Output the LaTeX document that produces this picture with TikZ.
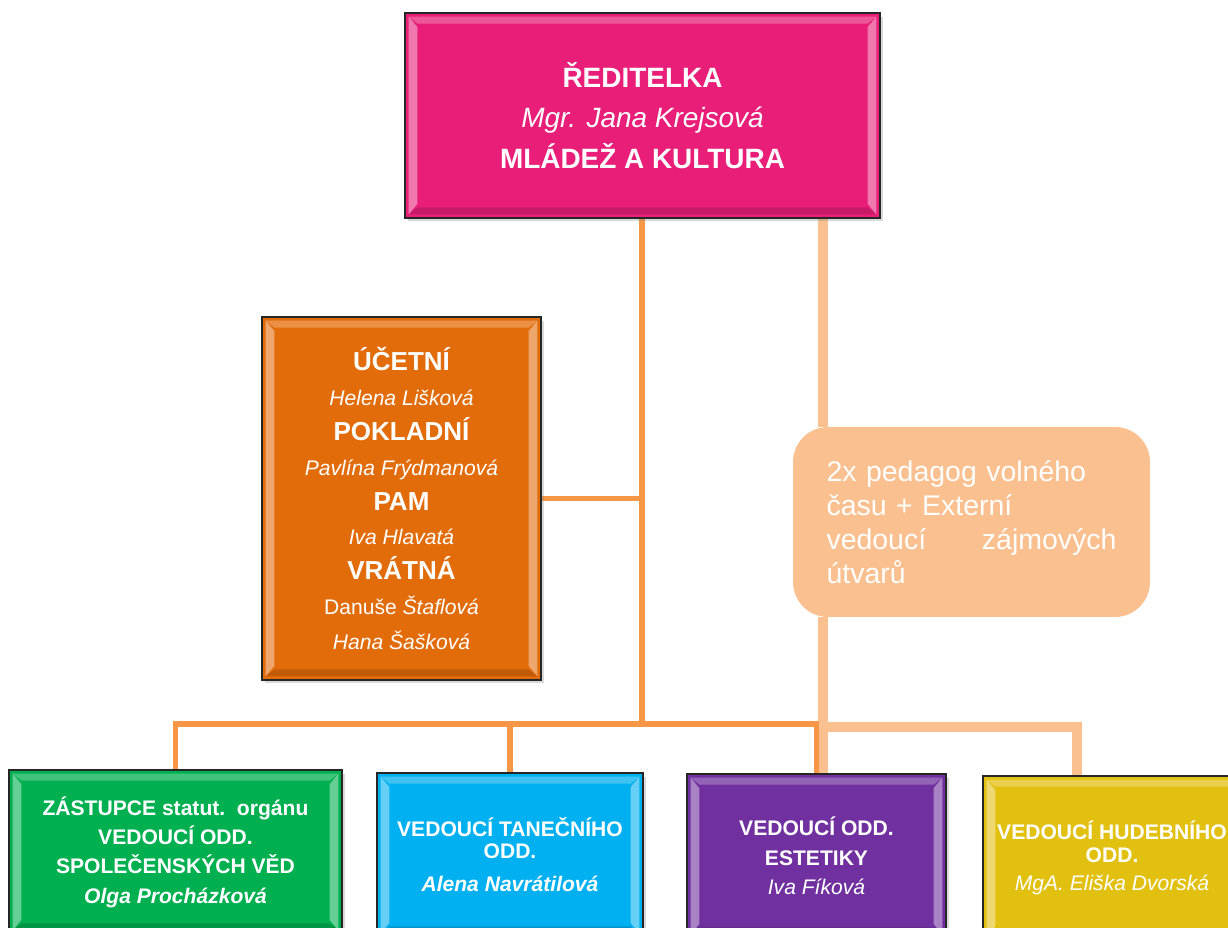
\documentclass[tikz,border=0pt]{standalone}
\usepackage{fontspec}
\setmainfont{Liberation Sans}
\usetikzlibrary{shadows,backgrounds}

\definecolor{reditpink}{RGB}{233,30,121}
\definecolor{ucetorange}{RGB}{227,108,10}
\definecolor{volnypeach}{RGB}{250,192,143}
\definecolor{lineorange}{RGB}{247,150,70}
\definecolor{zastgreen}{RGB}{0,176,80}
\definecolor{tanecblue}{RGB}{0,176,240}
\definecolor{estetpurple}{RGB}{112,48,160}
\definecolor{hudebyellow}{RGB}{226,192,16}

\newcommand{\rolename}[1]{{\fontsize{14.8}{19.8}\selectfont\upshape\bfseries #1}}

\begin{document}
\begin{tikzpicture}[x=0.02cm,y=-0.02cm,
  box/.style={draw=black!85,line width=1.2pt,text=white,inner sep=2pt,align=center,
    drop shadow={opacity=.3,shadow xshift=1.5pt,shadow yshift=-2pt},
    path picture={
      \fill[white,opacity=.4]
        ([shift={(2pt,-2pt)}]path picture bounding box.north west) -- ([shift={(7pt,-8pt)}]path picture bounding box.north west)
        -- ([shift={(7pt,8pt)}]path picture bounding box.south west) -- ([shift={(2pt,2pt)}]path picture bounding box.south west) -- cycle
        ([shift={(-2pt,-2pt)}]path picture bounding box.north east) -- ([shift={(-7pt,-8pt)}]path picture bounding box.north east)
        -- ([shift={(-7pt,8pt)}]path picture bounding box.south east) -- ([shift={(-2pt,2pt)}]path picture bounding box.south east) -- cycle;
      \fill[white,opacity=.25]
        ([shift={(2pt,-2pt)}]path picture bounding box.north west) -- ([shift={(-2pt,-2pt)}]path picture bounding box.north east)
        -- ([shift={(-7pt,-6pt)}]path picture bounding box.north east) -- ([shift={(7pt,-6pt)}]path picture bounding box.north west) -- cycle;
      \fill[black,opacity=.15]
        ([shift={(2pt,2pt)}]path picture bounding box.south west) -- ([shift={(-2pt,2pt)}]path picture bounding box.south east)
        -- ([shift={(-7pt,6pt)}]path picture bounding box.south east) -- ([shift={(7pt,6pt)}]path picture bounding box.south west) -- cycle;
    }},
  bottom box/.style={box,anchor=north,minimum height=3.28cm,
    font=\fontsize{12}{16.7}\selectfont\bfseries},
  dark line/.style={draw=lineorange,line width=3.4pt},
  light line/.style={draw=volnypeach,line width=5.7pt}]

  \path[use as bounding box,clip] (0,0) rectangle (1228,928);

  \node[box,fill=reditpink,minimum width=9.5cm,minimum height=4.1cm,
    font=\fontsize{15.9}{23}\selectfont] (redit) at (642.5,115.5)
    {\textbf{ŘEDITELKA}\\ \textit{Mgr. Jana Krejsová}\\ \textbf{MLÁDEŽ A KULTURA}};

  \node[box,fill=ucetorange,minimum width=5.58cm,minimum height=7.26cm,
    font=\fontsize{12}{19.8}\selectfont\itshape] (ucet) at (401.5,498.5)
    {\rolename{ÚČETNÍ}\\ Helena Lišková\\ \rolename{POKLADNÍ}\\ Pavlína Frýdmanová\\
     \rolename{PAM}\\ Iva Hlavatá\\ \rolename{VRÁTNÁ}\\ \textup{Danuše} Štaflová\\ Hana Šašková};

  \node[fill=volnypeach,rounded corners=0.7cm,minimum width=7.14cm,minimum height=3.8cm,
    text width=5.8cm,align=left,text=white,font=\fontsize{16.2}{19.3}\selectfont] (volny) at (971.5,522)
    {2x pedagog volného\\ času + Externí\\ \makebox[5.8cm][l]{vedoucí\hfill zájmových}\\ útvarů};

  \node[bottom box,fill=zastgreen,minimum width=6.66cm] (zast) at (175.5,769)
    {ZÁSTUPCE statut.\ \ orgánu\\ VEDOUCÍ ODD.\\ SPOLEČENSKÝCH VĚD\\ \textit{Olga Procházková}};
  \node[bottom box,fill=tanecblue,minimum width=5.32cm] (tanec) at (510,772)
    {VEDOUCÍ TANEČNÍHO\\[-4.2pt] ODD.\\[2pt] \textit{Alena Navrátilová}};
  \node[bottom box,fill=estetpurple,minimum width=5.18cm] (estet) at (816.5,773)
    {VEDOUCÍ ODD.\\ ESTETIKY\\ \textit{\mdseries Iva Fíková}};
  \node[bottom box,fill=hudebyellow,minimum width=5.16cm] (hudeb) at (1112,775)
    {VEDOUCÍ HUDEBNÍHO\\[-3.7pt] ODD.\\[-0.8pt] \textit{\mdseries MgA. Eliška Dvorská}};

  \begin{scope}[on background layer]
    \coordinate (trunk) at (642,724);
    \coordinate (lx) at (823,727);
    \coordinate (hj) at (1077,727);
    \draw[light line] (redit.south -| lx) -- (volny.north -| lx);
    \draw[light line] (volny.south -| lx) -- (estet.north -| lx);
    \draw[light line] (lx) -| (hudeb.north -| hj);
    \draw[dark line] (redit.south -| trunk) -- (trunk);
    \draw[dark line] (ucet.east) -- (ucet.east -| trunk);
    \draw[dark line] (zast.north) |- (trunk) -| (estet.north);
    \draw[dark line] (tanec.north) -- (tanec.north |- trunk);
  \end{scope}

\end{tikzpicture}
\end{document}
